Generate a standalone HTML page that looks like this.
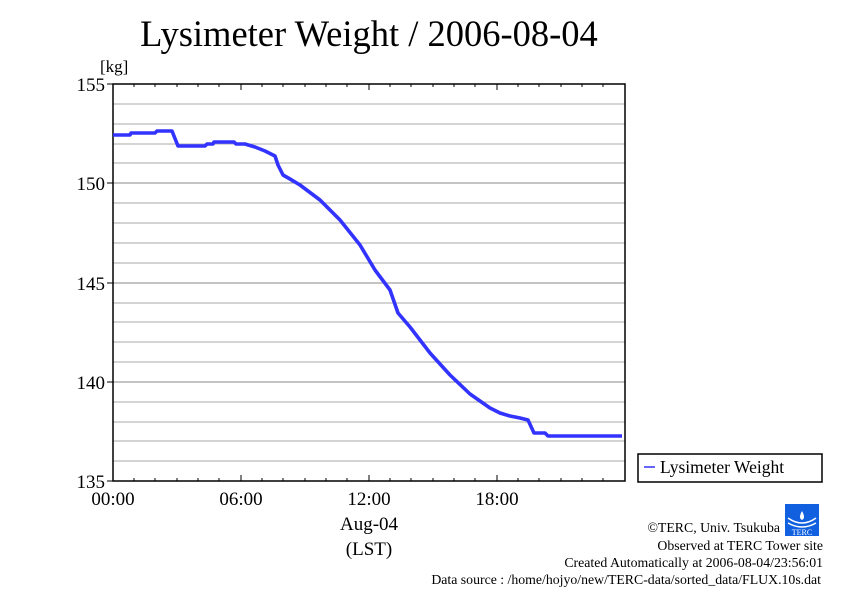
<!DOCTYPE html>
<html><head><meta charset="utf-8"><style>
body{margin:0;background:#fff}
svg text{font-family:"Liberation Serif",serif;fill:#000}
</style></head><body>
<svg width="842" height="595" viewBox="0 0 842 595" xmlns="http://www.w3.org/2000/svg">
<rect width="842" height="595" fill="#fff"/>
<text x="369" y="46" font-size="36.5" text-anchor="middle">Lysimeter Weight / 2006-08-04</text>
<text x="100" y="72" font-size="17">[kg]</text>
<g stroke="#aaa" stroke-width="1">
<line x1="113" x2="625" y1="104" y2="104"/><line x1="113" x2="625" y1="124" y2="124"/><line x1="113" x2="625" y1="144" y2="144"/><line x1="113" x2="625" y1="163" y2="163"/>
<line x1="113" x2="625" y1="203" y2="203"/><line x1="113" x2="625" y1="223" y2="223"/><line x1="113" x2="625" y1="243" y2="243"/><line x1="113" x2="625" y1="263" y2="263"/>
<line x1="113" x2="625" y1="303" y2="303"/><line x1="113" x2="625" y1="322" y2="322"/><line x1="113" x2="625" y1="342" y2="342"/><line x1="113" x2="625" y1="362" y2="362"/>
<line x1="113" x2="625" y1="402" y2="402"/><line x1="113" x2="625" y1="422" y2="422"/><line x1="113" x2="625" y1="441" y2="441"/><line x1="113" x2="625" y1="461" y2="461"/>
</g>
<g stroke="#888" stroke-width="1"><line x1="113" x2="625" y1="183" y2="183"/><line x1="113" x2="625" y1="283" y2="283"/><line x1="113" x2="625" y1="382" y2="382"/></g>
<rect x="113" y="84" width="512" height="397" fill="none" stroke="#000" stroke-width="1.5"/>
<g stroke="#000" stroke-width="1">
<path d="M134 84v3M155 84v3M177 84v3M198 84v3M219 84v3M262 84v3M283 84v3M305 84v3M326 84v3M347 84v3M390 84v3M411 84v3M433 84v3M454 84v3M475 84v3M518 84v3M539 84v3M561 84v3M582 84v3M603 84v3"/>
<path d="M241 84v6M369 84v6M497 84v6M241 481v-6M369 481v-6M497 481v-6"/>
<path d="M134 481v-3M155 481v-3M177 481v-3M198 481v-3M219 481v-3M262 481v-3M283 481v-3M305 481v-3M326 481v-3M347 481v-3M390 481v-3M411 481v-3M433 481v-3M454 481v-3M475 481v-3M518 481v-3M539 481v-3M561 481v-3M582 481v-3M603 481v-3"/>
<path d="M107 84h6M107 183h6M107 283h6M107 382h6M107 481h6"/>
</g>
<g font-size="19" text-anchor="end">
<text x="105" y="91">155</text><text x="105" y="190">150</text><text x="105" y="290">145</text><text x="105" y="389">140</text><text x="105" y="488">135</text>
</g>
<g font-size="19" text-anchor="middle">
<text x="113" y="505">00:00</text><text x="241" y="505">06:00</text><text x="369" y="505">12:00</text><text x="497" y="505">18:00</text>
<text x="369" y="530">Aug-04</text><text x="369" y="555">(LST)</text>
</g>
<polyline fill="none" stroke="#3333ff" stroke-width="3.6" stroke-linejoin="round" points="113,135 130,135 131,133 155,133 157,131 172,131 178,146 205,146 207,144 213,144 214,142 234,142 236,144 245,144 255,147 265,151 275,156 278,165 283,175 290,179 300,185 320,200 340,220 360,245 375,270 390,290 398,313 410,327 430,353 450,375 470,394 490,408 500,413 510,416 520,418 528,420 534,433 545,433 548,436 622,436"/>
<rect x="638" y="454" width="184" height="28" fill="#fff" stroke="#000" stroke-width="1.5"/>
<line x1="644" y1="467" x2="655" y2="467" stroke="#3333ff" stroke-width="1.5"/>
<text x="660" y="473" font-size="17.5">Lysimeter Weight</text>
<g transform="translate(785,504)">
<rect width="34" height="32" fill="#1060e0"/>
<path d="M3 14q14 10 28 0M3 19q14 8 28 0" stroke="#fff" stroke-width="1.5" fill="none"/>
<path d="M17 7q-4 7 0 9q4-2 0-9z" fill="#fff"/>
<text x="17" y="31" font-size="8" text-anchor="middle" style="fill:#fff">TERC</text>
</g>
<g font-size="13.8" text-anchor="end">
<text x="780" y="532">©TERC, Univ. Tsukuba</text>
<text x="823" y="550">Observed at TERC Tower site</text>
<text x="823" y="567">Created Automatically at 2006-08-04/23:56:01</text>
<text x="821" y="584">Data source : /home/hojyo/new/TERC-data/sorted_data/FLUX.10s.dat</text>
</g>
</svg>
</body></html>
